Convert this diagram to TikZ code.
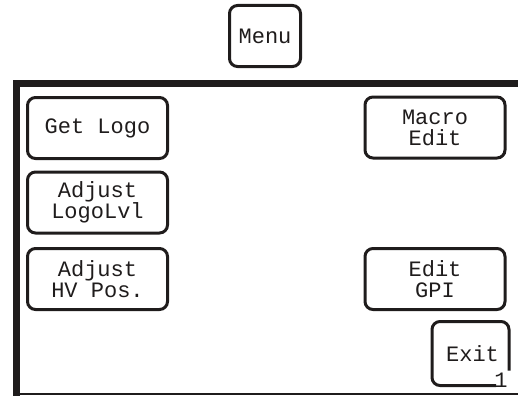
\documentclass[tikz,border=0pt]{standalone}
\usepackage{fontspec}
\setmonofont{Liberation Mono}
\usepackage{tikz}
\usetikzlibrary{positioning}
\definecolor{lcd}{rgb}{0.12, 0.11, 0.11}
\tikzset{every picture/.append style={line width=3pt,x=1pt,y=-1pt}}

\begin{document}
\begin{tikzpicture}
      \tikzstyle{btn}=[draw=lcd,rounded corners=8pt,minimum width=140pt,minimum height=61pt,inner sep=0pt,align=center,
        font=\ttfamily\fontsize{22}{21}\selectfont,text=lcd]
      \useasboundingbox (0,0) rectangle (518,396);
      % screen frame
      \draw[lcd,line width=7pt] (518,83) -- (16.5,83) -- (16.5,396);
      \draw[lcd,line width=2pt] (16.5,394) -- (518,394);
      % buttons
      \node[btn,minimum width=71pt] at (265,36) (menu) {Menu};
      \node[btn] at (97.5,128) (getlogo) {Get Logo};
      \node[btn] at (97.5,202.5) (logolvl) {Adjust\\LogoLvl};
      \node[btn] at (97.5,279) (hvpos) {Adjust\\HV Pos.};
      \node[btn] at (435,127.5) (macro) {Macro\\Edit};
      \node[btn] at (435,279) (gpi) {Edit\\GPI};
      \node[btn,draw=none,minimum width=74pt,minimum height=61pt] at (470.5,353.5) (exit) {\hspace{4pt}Exit};
      \draw[lcd,rounded corners=8pt] ([yshift=15pt]exit.south east) -- (exit.north east) -- (exit.north west)
        -- (exit.south west) -- ([xshift=-13pt]exit.south east);
      \node[anchor=base,inner sep=0pt,text=lcd,font=\ttfamily\fontsize{22}{21}\selectfont] at (501,387) (page) {1};
    \end{tikzpicture}
\end{document}
